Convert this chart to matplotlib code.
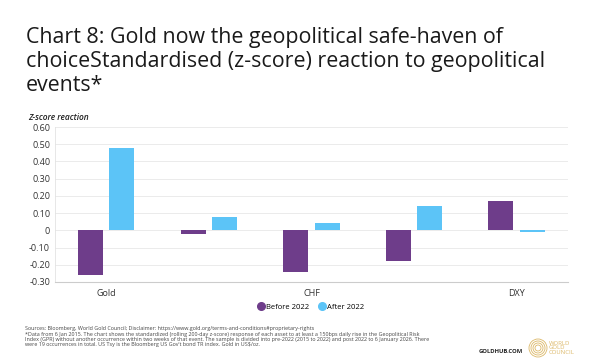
import matplotlib
matplotlib.use("Agg")
import matplotlib.pyplot as plt
import numpy as np
from matplotlib.patches import Circle

plt.rcParams['font.family'] = ['Open Sans', 'DejaVu Sans']

categories = ["Gold", "US Tsy", "CHF", "JPY", "DXY"]
tick_labels = ["Gold", "", "CHF", "", "DXY"]
before_2022 = [-0.26, -0.02, -0.24, -0.18, 0.17]
after_2022 = [0.48, 0.08, 0.04, 0.14, -0.01]
y_ticks = [-0.30, -0.20, -0.10, 0, 0.10, 0.20, 0.30, 0.40, 0.50, 0.60]

purple = "#6e3d8a"
blue = "#5cc4f7"
gold = "#dcb868"

title = ("Chart 8: Gold now the geopolitical safe-haven of\n"
         "choiceStandardised (z-score) reaction to geopolitical\n"
         "events*")
footer = ("Sources: Bloomberg, World Gold Council; Disclaimer: https://www.gold.org/terms-and-conditions#proprietary-rights\n"
          "*Data from 6 Jan 2015. The chart shows the standardized (rolling 200-day z-score) response of each asset to at least a 150bps daily rise in the Geopolitical Risk\n"
          "Index (GPR) without another occurrence within two weeks of that event. The sample is divided into pre-2022 (2015 to 2022) and post 2022 to 6 January 2026. There\n"
          "were 19 occurrences in total. US Tsy is the Bloomberg US Gov't bond TR index. Gold in US$/oz.")

fig = plt.figure(figsize=(6.01, 3.59), dpi=100)
ax = fig.add_axes([0.0915, 0.2145, 0.8535, 0.4317])

x = np.arange(len(categories))
w = 0.244
off = 0.153
ax.bar(x - off, before_2022, w, color=purple, label="Before 2022", zorder=3)
ax.bar(x + off, after_2022, w, color=blue, label="After 2022", zorder=3)

ax.set_xlim(-0.5, len(categories) - 0.5)
ax.set_ylim(-0.30, 0.60)
ax.set_yticks(y_ticks)
ax.set_yticklabels(["0" if v == 0 else f"{v:.2f}" for v in y_ticks])
ax.set_xticks(x)
ax.set_xticklabels(tick_labels)
ax.tick_params(axis='both', length=0, labelsize=6.5, colors="#333333")
ax.tick_params(axis='x', pad=5)
ax.grid(axis='y', color="#ebebeb", linewidth=0.7, zorder=0)
for s in ["top", "right"]:
    ax.spines[s].set_visible(False)
ax.spines["left"].set_color("#e3e3e3")
ax.spines["left"].set_linewidth(0.6)
ax.spines["bottom"].set_color("#cccccc")
ax.spines["bottom"].set_linewidth(0.8)

fig.text(0.047, 0.674, "Z-score reaction", fontsize=6, style='italic',
         fontweight='semibold', color="#222222", va='center')

fig.text(0.043, 0.924, title, fontsize=15.4, color="#1a1a1a", va='top',
         linespacing=1.18)

# legend with round markers
handles = [plt.Line2D([], [], marker='o', linestyle='', markersize=5.5, color=purple),
           plt.Line2D([], [], marker='o', linestyle='', markersize=5.5, color=blue)]
fig.legend(handles, ["Before 2022", "After 2022"], loc='center',
           bbox_to_anchor=(0.517, 0.145), ncol=2, frameon=False, fontsize=5.5,
           handletextpad=0.2, columnspacing=1.2, handlelength=1.0)

fig.text(0.042, 0.062, footer, fontsize=3.9, color="#444444", va='center',
         linespacing=1.1)

fig.text(0.870, 0.022, "GOLDHUB.COM", fontsize=4.2, fontweight='bold',
         color="#222222", ha='right', va='center')

# WGC logo: concentric rings (in inches so they stay round) plus text
for r in [0.09, 0.07, 0.05, 0.03]:
    fig.add_artist(Circle((5.38, 0.11), r, transform=fig.dpi_scale_trans,
                          fill=False, edgecolor=gold, linewidth=0.6))
fig.text(549 / 601, 0.031, "WORLD\nGOLD\nCOUNCIL", fontsize=4.3, color=gold,
         va='center', ha='left', linespacing=0.95)

fig.savefig("out.png", dpi=100)
